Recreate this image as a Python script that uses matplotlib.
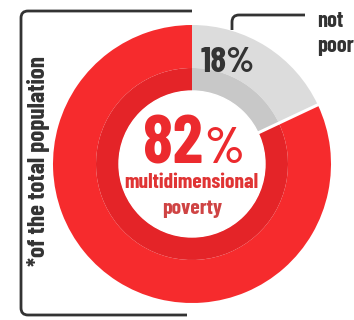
import numpy as np
import matplotlib.pyplot as plt
from matplotlib.path import Path
from matplotlib.patches import PathPatch, Circle

# data
labels = ["not poor", "multidimensional poverty"]
shares = [18, 82]
outer_colors = ["#dcdcdc", "#f62b2d"]
inner_colors = ["#c8c8c8", "#e42428"]

FONT = ["Barlow Condensed", "Roboto Condensed", "DejaVu Sans"]
DARK = "#333333"
RED = "#ec2a2e"

fig = plt.figure(figsize=(3.54, 3.20), dpi=100)
ax = fig.add_axes([0, 0, 1, 1])

cx, cy = 192, 156
r_out, r_mid, r_in = 139, 96, 73

ax.pie(shares, colors=outer_colors, startangle=90, counterclock=False,
       radius=r_out, center=(cx, cy), wedgeprops=dict(width=r_out - r_mid, linewidth=0))
ax.pie(shares, colors=inner_colors, startangle=90, counterclock=False,
       radius=r_mid, center=(cx, cy), wedgeprops=dict(width=r_mid - r_in, linewidth=0))
ax.add_patch(Circle((cx, cy), r_in, color="white", zorder=3))

# white gap at the end of the grey slice
ang = np.deg2rad(90 - shares[0] / sum(shares) * 360)
ax.plot([cx + r_in * np.cos(ang), cx + (r_out + 2) * np.cos(ang)],
        [cy + r_in * np.sin(ang), cy + (r_out + 2) * np.sin(ang)],
        color="white", lw=2.2, zorder=4, solid_capstyle="butt")

# bracket on the left + leader line
def rounded(points, rad):
    verts, codes = [points[0]], [Path.MOVETO]
    for i in range(1, len(points) - 1):
        p0, p1, p2 = map(np.array, points[i - 1:i + 2])
        a = p1 + (p0 - p1) / np.linalg.norm(p0 - p1) * rad
        b = p1 + (p2 - p1) / np.linalg.norm(p2 - p1) * rad
        verts += [tuple(a), tuple(p1), tuple(b)]
        codes += [Path.LINETO, Path.CURVE3, Path.CURVE3]
    verts.append(points[-1])
    codes.append(Path.LINETO)
    return Path(verts, codes)

ax.add_patch(PathPatch(rounded([(192, 309), (21, 309), (21, 5), (187, 5)], 7),
                       fill=False, edgecolor=DARK, lw=2, zorder=5))
ax.add_patch(PathPatch(rounded([(232, 290), (232, 305), (305, 305)], 7),
                       fill=False, edgecolor=DARK, lw=2, zorder=5))

ax.text(39, 159, "*of the total population", rotation=90, ha="center", va="center",
        family=FONT, fontsize=18, fontweight="bold", color=DARK)
ax.text(317, 293, "not", ha="left", va="baseline", family=FONT, fontsize=16,
        fontweight="bold", color=DARK)
ax.text(317, 268, "poor", ha="left", va="baseline", family=FONT, fontsize=16,
        fontweight="bold", color=DARK)

ax.text(228, 248, f"{shares[0]}%", ha="center", va="baseline", family=FONT,
        fontsize=26, fontweight="bold", color=DARK, zorder=6)
ax.text(203, 157, f"{shares[1]}", ha="right", va="baseline", family=FONT,
        fontsize=49, fontweight="bold", color=RED, zorder=6)
ax.text(204, 157, "%", ha="left", va="baseline", family=FONT,
        fontsize=37, fontweight="semibold", color=RED, zorder=6)
ax.text(191, 138, "multidimensional", ha="center", va="center", family=FONT,
        fontsize=15.5, fontweight="bold", color="#e03434", zorder=6)
ax.text(192, 112, "poverty", ha="center", va="center", family=FONT,
        fontsize=15.5, fontweight="bold", color="#cf4444", zorder=6)

ax.set_xlim(0, 354)
ax.set_ylim(0, 320)
ax.set_aspect("auto")
ax.axis("off")

fig.savefig("out.png", dpi=100)
